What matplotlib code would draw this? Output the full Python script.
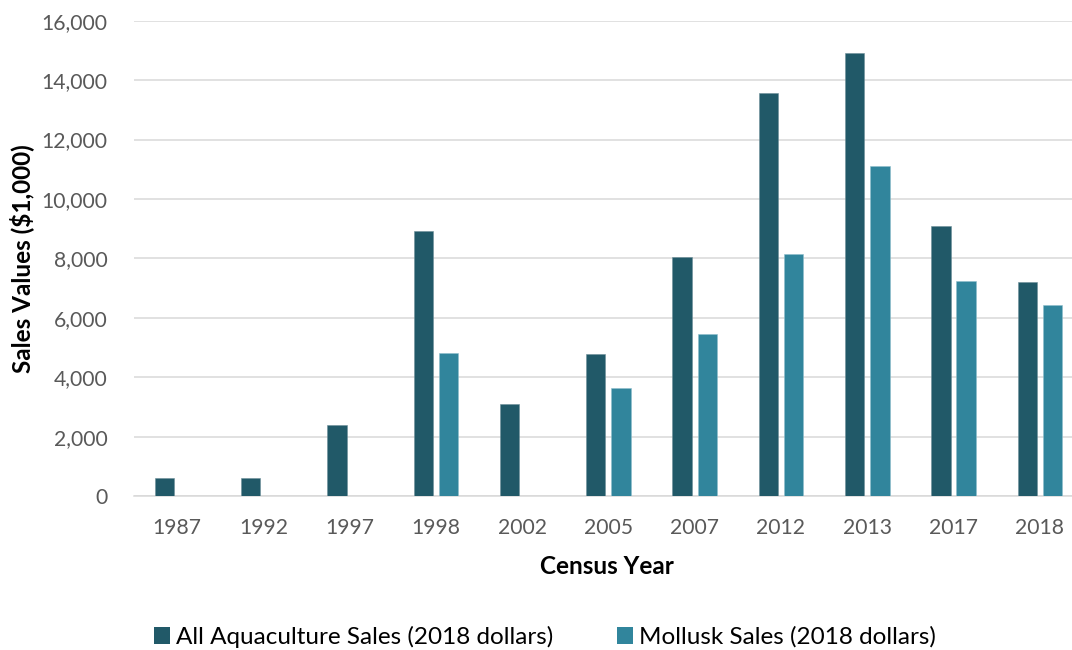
import matplotlib
matplotlib.use("Agg")
import matplotlib.pyplot as plt
import numpy as np

years = ["1987", "1992", "1997", "1998", "2002", "2005", "2007", "2012", "2013", "2017", "2018"]
all_sales = [590, 590, 2380, 8920, 3100, 4780, 8040, 13550, 14900, 9090, 7210]
mollusk_sales = [0, 0, 0, 4820, 0, 3620, 5460, 8140, 11100, 7250, 6430]
yticks = [0, 2000, 4000, 6000, 8000, 10000, 12000, 14000, 16000]

FONT = ["Lato", "DejaVu Sans"]
plt.rcParams["font.family"] = FONT

fig = plt.figure(figsize=(10.72, 6.5), dpi=100)
ax = fig.add_axes([0.1249, 0.2369, 1.0102 - 0.1249, 0.9682 - 0.2369])

x = np.arange(len(years))
w = 0.224
off = 0.146
ax.bar(x - off, all_sales, width=w, color="#215968", edgecolor="#6e8f99", linewidth=0.4,
       label="All Aquaculture Sales (2018 dollars)", zorder=3)
ax.bar(x + off, mollusk_sales, width=w, color="#31859C", edgecolor="#8fbfcc", linewidth=0.4,
       label="Mollusk Sales (2018 dollars)", zorder=3)

ax.set_xlim(-0.5, len(years) - 0.5)
ax.set_ylim(0, 16000)
ax.set_yticks(yticks)
ax.set_yticklabels([f"{v:,}" for v in yticks])
ax.set_xticks(x)
ax.set_xticklabels(years)
ax.tick_params(axis="y", length=0, pad=19, labelsize=15.2, labelcolor="#595959")
ax.tick_params(axis="x", length=0, pad=15.5, labelsize=15.2, labelcolor="#595959")

ax.grid(axis="y", color="#D9D9D9", linewidth=1.1, zorder=0)
for s in ["top", "right", "left"]:
    ax.spines[s].set_visible(False)
ax.spines["bottom"].set_color("#D9D9D9")
ax.spines["bottom"].set_linewidth(1.1)

fig.text(22 / 1072, 1 - 259 / 650, "Sales Values ($1,000)", rotation=90, ha="center", va="center",
         fontsize=17.5, fontweight="bold", color="#000000")
fig.text(607 / 1072, 1 - 566 / 650, "Census Year", ha="center", va="center",
         fontsize=17.5, fontweight="bold", color="#000000")

leg = fig.legend(loc="center", bbox_to_anchor=(545 / 1072, 1 - 637 / 650), ncol=2, frameon=False,
                 fontsize=17.5, handlelength=0.65, handleheight=0.65, handletextpad=0.25,
                 columnspacing=2.6, borderpad=0)
for p in leg.get_patches():
    p.set_linewidth(0)

fig.savefig("out.png", dpi=100)
